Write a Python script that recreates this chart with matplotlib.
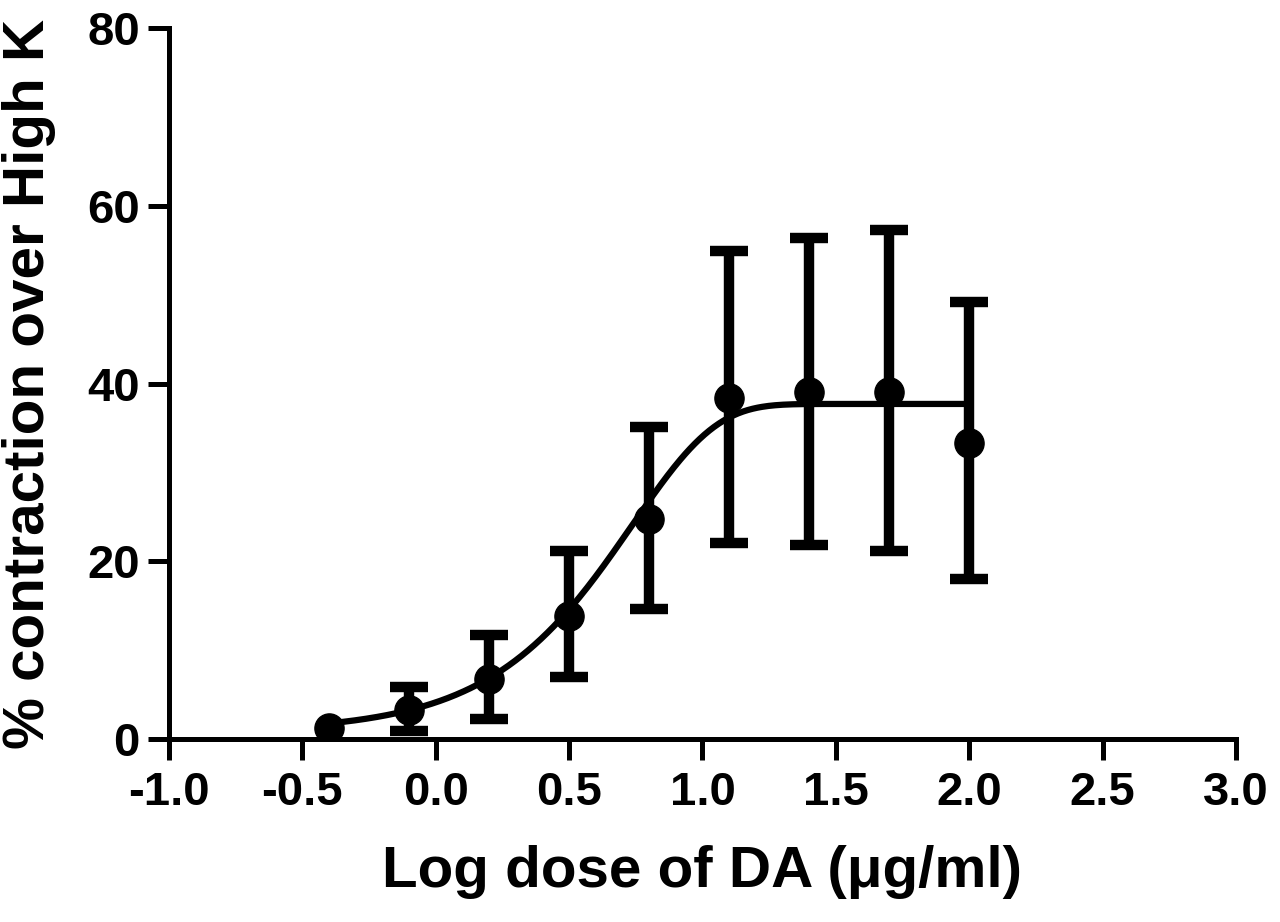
import numpy as np
import matplotlib.pyplot as plt

plt.rcParams['font.family'] = ['Liberation Sans', 'DejaVu Sans']
plt.rcParams['font.weight'] = 'bold'

#### DATA
log_dose = [-0.4, -0.1, 0.2, 0.5, 0.8, 1.1, 1.4, 1.7, 2.0]
mean_resp = [1.2, 3.3, 6.8, 13.8, 24.7, 38.4, 39.0, 39.0, 33.3]
err_upper = [np.nan, 5.8, 11.7, 21.1, 35.1, 54.9, 56.4, 57.3, 49.2]
err_lower = [np.nan, 0.9, 2.2, 7.0, 14.6, 22.0, 21.8, 21.2, 18.0]

# fitted curve parameters (bottom, top, midpoint, steepness)
fit_bottom = 0.8
fit_top = 37.7
fit_x0 = 0.738
fit_k = 3.2

x_ticks = [-1.0, -0.5, 0.0, 0.5, 1.0, 1.5, 2.0, 2.5, 3.0]
y_ticks = [0, 20, 40, 60, 80]

#### PLOTTING
fig = plt.figure(figsize=(12.8, 9.22), dpi=100)
ax = fig.add_axes([0.132, 0.1985, 0.8336, 0.7711])

x = np.array(log_dose)
y = np.array(mean_resp)
up = np.array(err_upper)
lo = np.array(err_lower)
has_err = ~np.isnan(up)

ax.errorbar(x[has_err], y[has_err], yerr=[y[has_err] - lo[has_err], up[has_err] - y[has_err]],
            fmt='none', ecolor='black', elinewidth=7.5, capsize=14, capthick=7.5, zorder=2)

xc = np.linspace(log_dose[0], log_dose[-1], 400)
yc = fit_bottom + (fit_top - fit_bottom) * (1 - np.exp(-np.exp(fit_k * (xc - fit_x0))))
ax.plot(xc, yc, color='black', lw=4.5, zorder=3)

ax.plot(x, y, 'o', color='black', ms=21, zorder=4)

ax.set_xlim(-1.0, 3.0)
ax.set_ylim(0, 80)
ax.set_xticks(x_ticks)
ax.set_xticklabels(['%.1f' % t for t in x_ticks])
ax.set_yticks(y_ticks)

for s in ['top', 'right']:
    ax.spines[s].set_visible(False)
for s in ['left', 'bottom']:
    ax.spines[s].set_linewidth(3.6)
    ax.spines[s].set_capstyle('projecting')

ax.tick_params(axis='both', direction='out', length=15, width=3.6, labelsize=34)
ax.tick_params(axis='y', pad=6)
ax.tick_params(axis='x', pad=8)

ax.set_xlabel('Log dose of DA (\u03bcg/ml)', fontsize=42, fontweight='bold', labelpad=22)
ax.set_ylabel('% contraction over High K', fontsize=42, fontweight='bold', labelpad=22)

fig.savefig('out.png', dpi=100)
